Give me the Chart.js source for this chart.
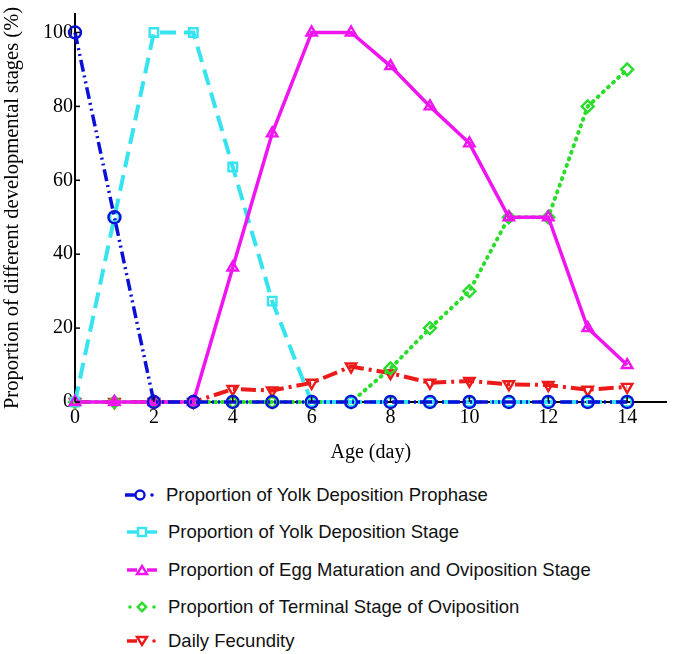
<!DOCTYPE html>
<html>
<head>
<meta charset="utf-8">
<script src="https://cdn.jsdelivr.net/npm/chart.js@4"></script>
<style>
  body { margin: 0; background: #fff; }
  #wrap { position: relative; width: 675px; height: 654px; }
  #chart { position: absolute; left: 0; top: 0; }
  .leg { position: absolute; left: 125px; height: 30px; display: flex; align-items: center;
         font: 18.5px "Liberation Sans", Arial, sans-serif; color: #111; white-space: nowrap; }
  .leg svg { margin-right: 9px; }
</style>
</head>
<body>
<div id="wrap">
  <canvas id="chart" width="675" height="470"></canvas>
  <div id="legend"></div>
</div>
<script>
// data
const days = [0, 1, 2, 3, 4, 5, 6, 7, 8, 9, 10, 11, 12, 13, 14];
const prophase = [100, 50, 0, 0, 0, 0, 0, 0, 0, 0, 0, 0, 0, 0, 0];
const yolkStage = [0, 50, 100, 100, 63.6, 27.3, 0, 0, 0, 0, 0, 0, 0, 0, 0];
const eggMaturation = [0, 0, 0, 0, 36.4, 72.7, 100, 100, 90.9, 80, 70, 50, 50, 20, 10];
const terminalStage = [0, 0, 0, 0, 0, 0, 0, 0, 9.1, 20, 30, 50, 50, 80, 90];
const fecundity = [0, 0, 0, 0, 3.5, 3.1, 5.2, 9.6, 7.8, 5.2, 5.7, 4.8, 4.6, 3.3, 4.1];
const xTicks = [0, 2, 4, 6, 8, 10, 12, 14];
const yTicks = [0, 20, 40, 60, 80, 100];

const serif = '"Liberation Serif", "Times New Roman", serif';

const series = [
  { label: 'Proportion of Yolk Deposition Prophase', data: prophase, color: '#0b10d6',
    dash: [12, 4, 2, 4, 2, 4], style: 'circle', rot: 0, width: 3.5, order: 0 },
  { label: 'Proportion of Yolk Deposition Stage', data: yolkStage, color: '#36e4f0',
    dash: [16, 8], style: 'rect', rot: 0, width: 4, order: 2 },
  { label: 'Proportion of Egg Maturation and Oviposition Stage', data: eggMaturation, color: '#f014f0',
    dash: [], style: 'triangle', rot: 0, width: 3.5, order: 1 },
  { label: 'Proportion of Terminal Stage of Oviposition', data: terminalStage, color: '#2add2a',
    dash: [1, 6], style: 'rectRot', rot: 0, width: 4, order: 3, cap: 'round' },
  { label: 'Daily Fecundity', data: fecundity, color: '#ec1a1a',
    dash: [15, 5, 3, 5], style: 'triangle', rot: 180, width: 4, order: 4 }
];

const datasets = series.map(s => ({
  label: s.label,
  data: days.map((d, i) => ({ x: d, y: s.data[i] })),
  borderColor: s.color,
  borderWidth: s.width,
  borderDash: s.dash,
  borderCapStyle: s.cap || 'butt',
  pointStyle: s.style,
  pointRotation: s.rot,
  pointRadius: 6,
  pointBorderWidth: 2.4,
  pointBorderColor: s.color,
  pointBackgroundColor: 'rgba(255,255,255,0)',
  tension: 0,
  clip: false,
  order: s.order
}));

// small inward tick marks on both axes
const innerTicks = {
  id: 'innerTicks',
  afterDraw(chart) {
    const { ctx, scales: { x, y } } = chart;
    ctx.save();
    ctx.strokeStyle = '#000';
    ctx.lineWidth = 1.5;
    xTicks.forEach(v => {
      const px = x.getPixelForValue(v);
      ctx.beginPath(); ctx.moveTo(px, y.bottom); ctx.lineTo(px, y.bottom - 5); ctx.stroke();
    });
    yTicks.forEach(v => {
      const py = y.getPixelForValue(v);
      ctx.beginPath(); ctx.moveTo(x.left, py); ctx.lineTo(x.left + 5, py); ctx.stroke();
    });
    ctx.restore();
  }
};

new Chart(document.getElementById('chart'), {
  type: 'line',
  data: { datasets: datasets },
  options: {
    responsive: false,
    animation: false,
    layout: { padding: { top: 3, right: 3, left: 0, bottom: 0 } },
    plugins: { legend: { display: false }, tooltip: { enabled: false } },
    scales: {
      x: {
        type: 'linear', min: 0, max: 15,
        border: { color: '#000', width: 2 },
        grid: { drawOnChartArea: false, drawTicks: false },
        ticks: { padding: 4, color: '#000', maxRotation: 0, font: { family: serif, size: 20 } },
        afterBuildTicks: s => { s.ticks = xTicks.map(v => ({ value: v })); },
        afterFit: s => { s.height = 68; },
        title: { display: true, text: 'Age (day)', color: '#000',
                 font: { family: serif, size: 20 }, padding: { top: 0, bottom: 5 } }
      },
      y: {
        min: 0, max: 105,
        border: { color: '#000', width: 2 },
        grid: { drawOnChartArea: false, drawTicks: false },
        ticks: { padding: 2, color: '#000', font: { family: serif, size: 20 } },
        afterBuildTicks: s => { s.ticks = yTicks.map(v => ({ value: v })); },
        afterFit: s => { s.width = 75; },
        title: { display: true, text: 'Proportion of different developmental stages (%)', color: '#000',
                 font: { family: serif, size: 20.5 }, padding: { top: 0, bottom: 0 } }
      }
    }
  },
  plugins: [innerTicks]
});

// legend below the chart
const legendRows = [495, 532, 570, 607, 641];
const legend = document.getElementById('legend');
series.forEach((s, i) => {
  const row = document.createElement('div');
  row.className = 'leg';
  row.style.top = (legendRows[i] - 15) + 'px';
  if (i > 0) row.style.left = '127px';
  const c = s.color;
  let marker = '';
  if (s.style === 'circle') marker = `<circle cx="15" cy="8" r="4.5" fill="none" stroke="${c}" stroke-width="2.4"/>`;
  if (s.style === 'rect') marker = `<rect x="11" y="4" width="8" height="8" fill="none" stroke="${c}" stroke-width="2.4"/>`;
  if (s.style === 'rectRot') marker = `<rect x="12" y="5" width="6" height="6" fill="none" stroke="${c}" stroke-width="2.4" transform="rotate(45 15 8)"/>`;
  if (s.style === 'triangle' && !s.rot) marker = `<polygon points="15,4 20,12 10,12" fill="none" stroke="${c}" stroke-width="2.4"/>`;
  if (s.style === 'triangle' && s.rot) marker = `<polygon points="10,4 20,4 15,12" fill="none" stroke="${c}" stroke-width="2.4"/>`;
  const solid = s.dash.length === 0 || s.style === 'rect';
  const lead = s.style === 'rectRot'
    ? `<circle cx="3" cy="8" r="1.8" fill="${c}"/>`
    : `<line x1="0" y1="8" x2="10" y2="8" stroke="${c}" stroke-width="3.5"/>`;
  const tail = solid
    ? `<line x1="20" y1="8" x2="30" y2="8" stroke="${c}" stroke-width="3.5"/>`
    : `<circle cx="27" cy="8" r="1.8" fill="${c}"/>`;
  row.innerHTML = `<svg width="32" height="16">${lead}${marker}${tail}</svg><span>${s.label}</span>`;
  legend.appendChild(row);
});
</script>
</body>
</html>
